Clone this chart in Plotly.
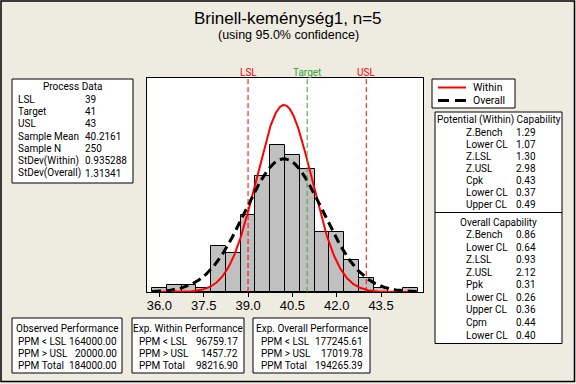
import numpy as np
import plotly.graph_objects as go

W, H = 576, 384

# ---- data ----
bin_centers = [36.0, 36.5, 37.0, 37.5, 38.0, 38.5, 39.0, 39.5, 40.0, 40.5,
               41.0, 41.5, 42.0, 42.5, 43.0, 43.5, 44.0, 44.5]
counts = [1, 2, 2, 1, 13, 11, 22, 33, 42, 39, 35, 17, 17, 9, 4, 1, 0, 1]
bin_width = 0.5
n_obs = 250
mean = 40.2161
sd_within = 0.935288
sd_overall = 1.31341
LSL, TARGET, USL = 39, 41, 43
tick_vals = [36.0, 37.5, 39.0, 40.5, 42.0, 43.5]
tick_text = ["36.0", "37.5", "39.0", "40.5", "42.0", "43.5"]

title = "Brinell-keménység1, n=5"
subtitle = "(using 95.0% confidence)"

process_labels = ["LSL", "Target", "USL", "Sample Mean", "Sample N",
                  "StDev(Within)", "StDev(Overall)"]
process_values = ["39", "41", "43", "40.2161", "250", "0.935288", "1.31341"]

within_labels = ["Z.Bench", "Lower CL", "Z.LSL", "Z.USL", "Cpk", "Lower CL", "Upper CL"]
within_values = ["1.29", "1.07", "1.30", "2.98", "0.43", "0.37", "0.49"]

overall_labels = ["Z.Bench", "Lower CL", "Z.LSL", "Z.USL", "Ppk", "Lower CL",
                  "Upper CL", "Cpm", "Lower CL"]
overall_values = ["0.86", "0.64", "0.93", "2.12", "0.31", "0.26", "0.36", "0.44", "0.40"]

perf_labels = ["PPM &lt; LSL", "PPM &gt; USL", "PPM Total"]
obs_perf = ["164000.00", "20000.00", "184000.00"]
exp_within_perf = ["96759.17", "1457.72", "98216.90"]
exp_overall_perf = ["177245.61", "17019.78", "194265.39"]

# ---- helpers ----
FONT = "Liberation Sans, Arial, sans-serif"
TFONT = "Roboto, Liberation Sans, sans-serif"
BG = "#EEEBE0"
TS = 10


def px(x):
    return x / W


def py(y):
    return 1 - y / H


annotations = []
shapes = []


def text(x, y, s, size=TS, anchor="left", color="black", family=TFONT):
    annotations.append(dict(x=px(x), y=py(y), xref="paper", yref="paper",
                            text=s, showarrow=False, xanchor=anchor, yanchor="middle",
                            font=dict(family=family, size=size, color=color)))


def box(x0, y0, x1, y1):
    shapes.append(dict(type="rect", xref="paper", yref="paper",
                       x0=px(x0), x1=px(x1), y0=py(y1), y1=py(y0),
                       fillcolor="white", line=dict(color="black", width=1),
                       layer="below"))


def hline(x0, x1, y, color="black", width=1, dash="solid"):
    shapes.append(dict(type="line", xref="paper", yref="paper",
                       x0=px(x0), x1=px(x1), y0=py(y), y1=py(y),
                       line=dict(color=color, width=width, dash=dash)))


# plot area in pixels
PL, PR, PT, PB = 147, 423, 78, 292

fig = go.Figure()
fig.add_trace(go.Bar(x=bin_centers, y=counts, width=bin_width,
                     marker=dict(color="#C0C0C0", line=dict(color="black", width=1)),
                     showlegend=False, hoverinfo="skip"))

xs = np.linspace(35.75, 44.75, 500)
scale = n_obs * bin_width
y_within = scale * np.exp(-0.5 * ((xs - mean) / sd_within) ** 2) / (sd_within * np.sqrt(2 * np.pi))
y_overall = scale * np.exp(-0.5 * ((xs - mean) / sd_overall) ** 2) / (sd_overall * np.sqrt(2 * np.pi))

fig.add_trace(go.Scatter(x=xs, y=y_within, mode="lines",
                         line=dict(color="#FF0000", width=2), showlegend=False,
                         hoverinfo="skip"))
fig.add_trace(go.Scatter(x=xs, y=y_overall, mode="lines",
                         line=dict(color="black", width=3, dash="9px,5px"),
                         showlegend=False, hoverinfo="skip"))

# spec lines
spec = [(LSL, "LSL", "#FF0000"), (TARGET, "Target", "#3A9E3A"), (USL, "USL", "#FF0000")]
for xv, lab, col in spec:
    shapes.append(dict(type="line", xref="x", yref="paper", x0=xv, x1=xv,
                       y0=py(PB), y1=py(PT),
                       line=dict(color=col, width=1, dash="5px,3px")))
    annotations.append(dict(x=xv, y=py(72), xref="x", yref="paper", text=lab,
                            showarrow=False, xanchor="center", yanchor="middle",
                            font=dict(family=TFONT, size=10, color=col)))

# title
text(288, 19, title, size=17, anchor="center", family=FONT)
text(288, 35, subtitle, size=12.5, anchor="center", family=FONT)

# process data box
box(12, 79, 133, 183)
text(72.5, 86.5, "Process Data", anchor="center")
for i, (lab, val) in enumerate(zip(process_labels, process_values)):
    y = 99 + 12.35 * i
    text(15.5, y, lab)
    text(83, y, val)

# legend box
box(432, 79, 515, 108)
hline(438, 466, 87.5, color="#FF0000", width=2)
text(470.5, 87.5, "Within", size=10.5)
hline(438, 449, 100.5, color="black", width=3)
hline(455, 466, 100.5, color="black", width=3)
text(470.5, 100.5, "Overall", size=10.5)

# capability box
box(435, 112, 562, 343.5)
hline(435, 562, 212.5)
text(498.5, 120, "Potential (Within) Capability", anchor="center")
for i, (lab, val) in enumerate(zip(within_labels, within_values)):
    y = 132 + 12.1 * i
    text(464, y, lab)
    text(514, y, val)
text(498.5, 222.7, "Overall Capability", anchor="center")
for i, (lab, val) in enumerate(zip(overall_labels, overall_values)):
    y = 234.5 + 12.58 * i
    text(464, y, lab)
    text(514, y, val)

# performance boxes
perf_boxes = [
    (12, 122, "Observed Performance", obs_perf, 15.5, 118.5),
    (132, 244, "Exp. Within Performance", exp_within_perf, 136.5, 240),
    (253, 370, "Exp. Overall Performance", exp_overall_perf, 259, 364.5),
]
for x0, x1, head, vals, lx, vx in perf_boxes:
    box(x0, 318, x1, 373)
    text((x0 + x1) / 2, 328.5, head, anchor="center")
    for i, (lab, val) in enumerate(zip(perf_labels, vals)):
        y = 341 + 12 * i
        text(lx, y, lab)
        text(vx, y, val, anchor="right")

# outer border
shapes.append(dict(type="rect", xref="paper", yref="paper",
                   x0=px(1), x1=px(574.5), y0=py(381.5), y1=py(1),
                   line=dict(color="black", width=1.5), layer="below"))

fig.update_layout(
    width=W, height=H, margin=dict(l=0, r=0, t=0, b=0),
    paper_bgcolor=BG, plot_bgcolor="white",
    bargap=0, showlegend=False,
    shapes=shapes, annotations=annotations,
    xaxis=dict(domain=[px(PL), px(PR)], range=[35.58, 44.92],
               tickvals=tick_vals, ticktext=tick_text,
               ticks="outside", ticklen=4, tickcolor="black",
               ticklabelstandoff=-3,
               tickfont=dict(family=FONT, size=13, color="black"),
               showline=True, linecolor="black", linewidth=1, mirror=True,
               showgrid=False, zeroline=False),
    yaxis=dict(domain=[py(PB), py(PT)], range=[0, 61],
               showticklabels=False, ticks="",
               showline=True, linecolor="black", linewidth=1, mirror=True,
               showgrid=False, zeroline=False),
)

fig.write_html("out.html", config={"displayModeBar": False},
               post_script="document.body.style.margin='0';document.body.style.overflow='hidden';")
